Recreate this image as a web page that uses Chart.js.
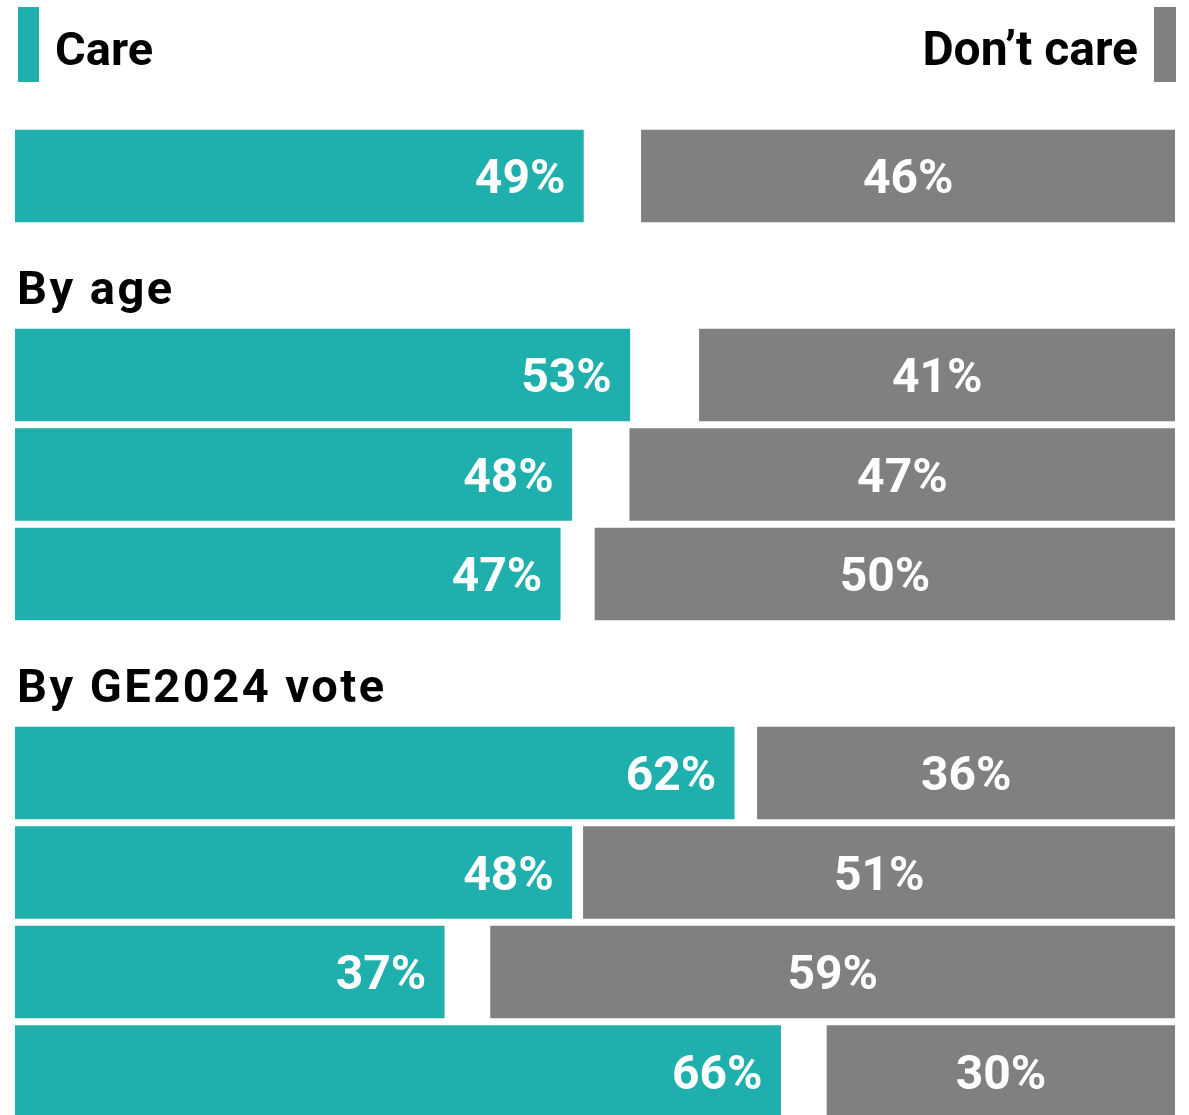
<!DOCTYPE html>
<html>
<head>
<meta charset="utf-8">
<script src="https://cdn.jsdelivr.net/npm/chart.js@4.4.1/dist/chart.umd.min.js"></script>
<style>
  html, body { margin: 0; padding: 0; background: #fff; overflow: hidden; }
  #wrap { width: 1189px; height: 1115px; position: relative; }
</style>
</head>
<body>
<div id="wrap"><canvas id="chart"></canvas></div>
<script>
// sections of the chart, first one has no heading
var sections = ['', 'By age', 'By GE2024 vote'];
var sectionRows = [1, 3, 4];

var care = [49, 53, 48, 47, 62, 48, 37, 66];
var dontCare = [46, 41, 47, 50, 36, 51, 59, 30];

var careColor = '#1fafad';
var dontCareColor = '#808080';

// work out which slot each row / heading sits in
var rowSlots = [];
var headings = [];
var slot = 0;
for (var s = 0; s < sections.length; s++) {
    if (sections[s] !== '') {
        headings.push({text: sections[s], slot: slot});
        slot++;
    }
    for (var r = 0; r < sectionRows[s]; r++) {
        rowSlots.push(slot);
        slot++;
    }
}

var careData = rowSlots.map(function(y, i) { return {x: [0, care[i]], y: y}; });
var dontCareData = rowSlots.map(function(y, i) { return {x: [100 - dontCare[i], 100], y: y}; });

var labelsPlugin = {
    id: 'labels',
    afterDatasetsDraw: function(chart) {
        var ctx = chart.ctx;
        var area = chart.chartArea;
        var yScale = chart.scales.y;
        ctx.save();

        // bar values
        ctx.font = 'bold 48px Roboto';
        ctx.fillStyle = '#fff';
        ctx.textBaseline = 'middle';
        chart.getDatasetMeta(0).data.forEach(function(bar, i) {
            ctx.textAlign = 'right';
            ctx.fillText(care[i] + '%', bar.x - 18, bar.y + 5);
        });
        chart.getDatasetMeta(1).data.forEach(function(bar, i) {
            ctx.textAlign = 'center';
            ctx.fillText(dontCare[i] + '%', (bar.x + bar.base) / 2, bar.y + 5);
        });

        // section headings
        ctx.fillStyle = '#000';
        ctx.textAlign = 'left';
        ctx.textBaseline = 'alphabetic';
        ctx.font = 'bold 47px Roboto';
        ctx.letterSpacing = '2.5px';
        headings.forEach(function(h) {
            ctx.fillText(h.text, area.left + 2, yScale.getPixelForValue(h.slot) + 28);
        });

        // legend
        var ds = chart.data.datasets;
        ctx.letterSpacing = '0px';
        ctx.fillStyle = ds[0].backgroundColor;
        ctx.fillRect(area.left + 3, 7, 21, 75);
        ctx.fillStyle = ds[1].backgroundColor;
        ctx.fillRect(area.right - 21, 7, 22, 75);
        ctx.fillStyle = '#000';
        ctx.font = 'bold 47px Roboto';
        ctx.textAlign = 'left';
        ctx.fillText(ds[0].label, area.left + 40, 65);
        ctx.font = 'bold 48px Roboto';
        ctx.textAlign = 'right';
        ctx.fillText(ds[1].label, area.right - 37, 65);
        ctx.restore();
    }
};

var ctx = document.getElementById('chart').getContext('2d');
var myChart = new Chart(ctx, {
    type: 'bar',
    data: {
        datasets: [
            {
                label: 'Care',
                backgroundColor: careColor,
                data: careData,
                grouped: false,
                barThickness: 92
            },
            {
                label: 'Don\u2019t care',
                backgroundColor: dontCareColor,
                data: dontCareData,
                grouped: false,
                barThickness: 92
            }
        ]
    },
    options: {
        indexAxis: 'y',
        responsive: true,
        maintainAspectRatio: false,
        animation: false,
        layout: {padding: {left: 15, right: 14, top: 0, bottom: 0}},
        scales: {
            x: {type: 'linear', min: 0, max: 100, display: false},
            y: {type: 'linear', min: -1.769, max: 9.437, reverse: true, offset: false, display: false}
        },
        plugins: {
            legend: {display: false},
            tooltip: {enabled: false}
        }
    },
    plugins: [labelsPlugin]
});
</script>
</body>
</html>
